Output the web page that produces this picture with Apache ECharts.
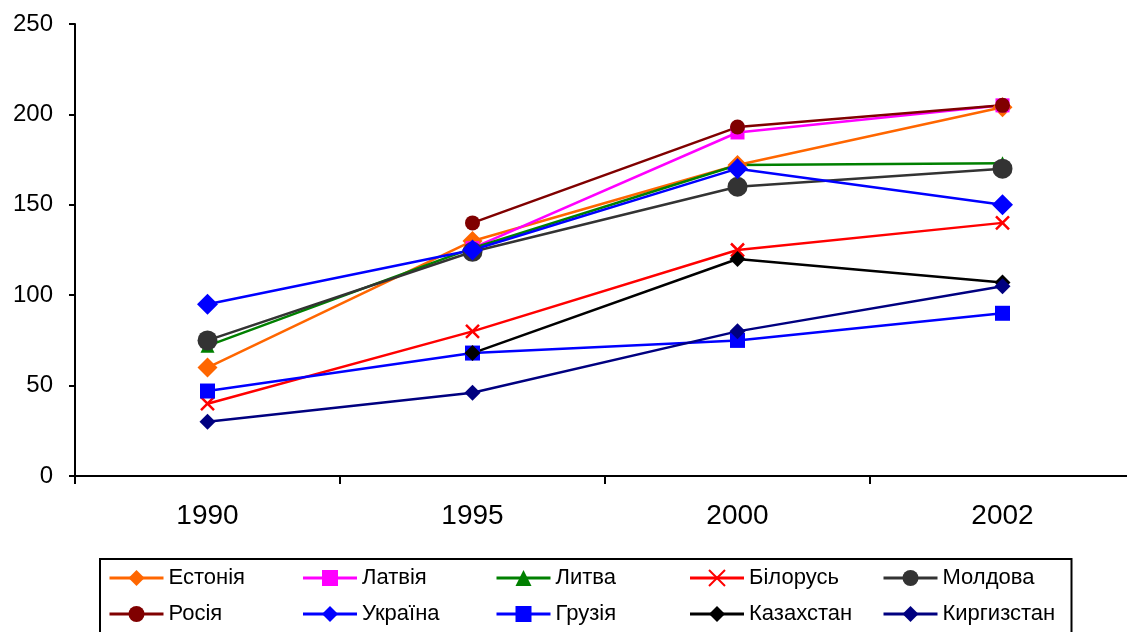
<!DOCTYPE html>
<html>
<head>
<meta charset="utf-8">
<script src="https://cdn.jsdelivr.net/npm/echarts@6/dist/echarts.min.js"></script>
<style>
html,body{margin:0;padding:0;background:#fff;}
#chart{width:1127px;height:632px;}
</style>
</head>
<body>
<div id="chart"></div>
<script>
var years = ['1990', '1995', '2000', '2002'];
var estonia    = [60, 130, 172, 204];
var latvia     = [null, 126, 190, 205];
var lithuania  = [72, 126, 172, 173];
var belarus    = [40, 80, 125, 140];
var moldova    = [75, 124, 160, 170];
var russia     = [null, 140, 193, 205];
var ukraine    = [95, 125, 170, 150];
var georgia    = [47, 68, 75, 90];
var kazakhstan = [null, 68, 120, 107];
var kyrgyzstan = [30, 46, 80, 105];

var crossPath = 'path://M0,0L10,10M10,0L0,10';

function s(name, data, color, symbol, size, extra) {
  var o = {
    name: name, type: 'line', data: data,
    symbol: symbol, symbolSize: size,
    lineStyle: {color: color, width: 2.5},
    itemStyle: {color: color},
    emphasis: {disabled: true},
    animation: false
  };
  if (extra) o.itemStyle = extra;
  return o;
}

var series = [
  s('Естонія', estonia, '#FF6600', 'diamond', 20),
  s('Латвія', latvia, '#FF00FF', 'rect', 14),
  s('Литва', lithuania, '#008000', 'triangle', 14),
  s('Білорусь', belarus, '#FF0000', crossPath, 13, {color: 'rgba(0,0,0,0)', borderColor: '#FF0000', borderWidth: 2.5}),
  s('Молдова', moldova, '#333333', 'circle', 20),
  s('Росія', russia, '#800000', 'circle', 15),
  s('Україна', ukraine, '#0000FF', 'diamond', 21),
  s('Грузія', georgia, '#0000FF', 'rect', 15),
  s('Казахстан', kazakhstan, '#000000', 'diamond', 16),
  s('Киргизстан', kyrgyzstan, '#000080', 'diamond', 16)
];

var chart = echarts.init(document.getElementById('chart'));
chart.setOption({
  animation: false,
  backgroundColor: '#fff',
  grid: {left: 75, top: 24, width: 1060, bottom: 156, containLabel: false, outerBoundsMode: 'none'},
  xAxis: {
    type: 'category', data: years, boundaryGap: true,
    axisLine: {show: true, lineStyle: {color: '#000', width: 2}},
    axisTick: {show: true, length: 8, lineStyle: {color: '#000', width: 2}},
    axisLabel: {color: '#000', fontSize: 28, margin: 26, fontFamily: 'Liberation Sans, Arial, sans-serif'},
    splitLine: {show: false}
  },
  yAxis: {
    type: 'value', min: 0, max: 250, interval: 50,
    axisLine: {show: true, lineStyle: {color: '#000', width: 2}},
    axisTick: {show: true, length: 6, lineStyle: {color: '#000', width: 2}},
    axisLabel: {color: '#000', fontSize: 24, margin: 22, fontFamily: 'Liberation Sans, Arial, sans-serif'},
    splitLine: {show: false}
  },
  legend: {
    show: true,
    left: 100, top: 559,
    width: 970,
    orient: 'horizontal',
    padding: [7, 8, 10, 8],
    borderColor: '#000', borderWidth: 2,
    itemWidth: 54, itemHeight: 20, itemGap: 12,
    lineStyle: {width: 3},
    textStyle: {color: '#000', fontSize: 22, lineHeight: 24, width: 121, overflow: 'none', fontFamily: 'Liberation Sans, Arial, sans-serif'},
    data: series.map(function (x) { return x.name; })
  },
  series: series
});
</script>
</body>
</html>
